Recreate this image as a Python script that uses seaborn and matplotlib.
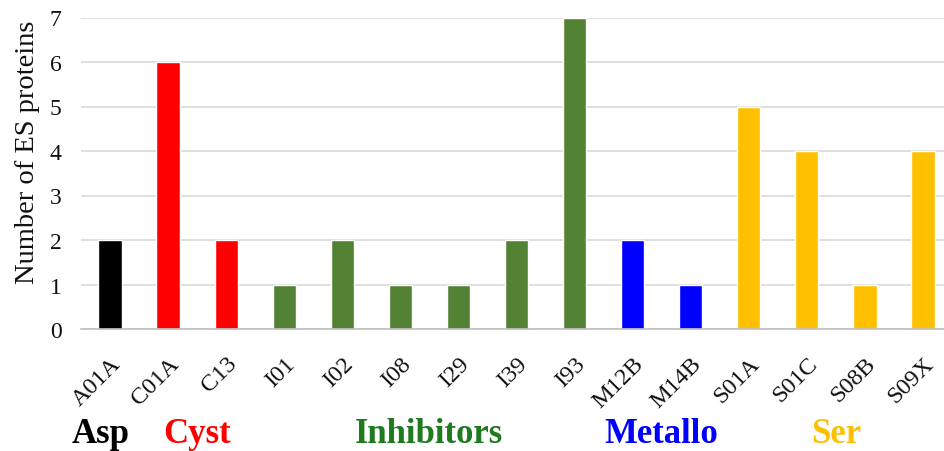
import matplotlib
matplotlib.use("Agg")
import matplotlib.pyplot as plt
import matplotlib.transforms as mtransforms
import seaborn as sns
import pandas as pd
import numpy as np

categories = ["A01A", "C01A", "C13", "I01", "I02", "I08", "I29", "I39", "I93",
              "M12B", "M14B", "S01A", "S01C", "S08B", "S09X"]
values = [2, 6, 2, 1, 2, 1, 1, 2, 7, 2, 1, 5, 4, 1, 4]
groups = ["Asp", "Cyst", "Cyst", "Inhibitors", "Inhibitors", "Inhibitors", "Inhibitors",
          "Inhibitors", "Inhibitors", "Metallo", "Metallo", "Ser", "Ser", "Ser", "Ser"]
group_names = ["Asp", "Cyst", "Inhibitors", "Metallo", "Ser"]
bar_colors = {"Asp": "#000000", "Cyst": "#FF0000", "Inhibitors": "#548235",
              "Metallo": "#0000FF", "Ser": "#FFC000"}
label_colors = {"Asp": "#000000", "Cyst": "#FF0000", "Inhibitors": "#1E7B1E",
                "Metallo": "#0000FF", "Ser": "#FFC000"}

df = pd.DataFrame({"cat": categories, "val": values, "grp": groups})

sns.set_theme(style="white")
plt.rcParams["font.family"] = ["Liberation Serif", "DejaVu Serif"]
plt.rcParams["text.color"] = "#111111"
plt.rcParams["xtick.color"] = "#111111"
plt.rcParams["ytick.color"] = "#111111"
plt.rcParams["axes.labelcolor"] = "#111111"

fig = plt.figure(figsize=(9.45, 4.52), dpi=100)
ax = fig.add_axes([81 / 945, 1 - 330 / 452, 871 / 945, (330 - 18.5) / 452])

sns.barplot(data=df, x="cat", y="val", hue="grp", palette=bar_colors,
            order=categories, hue_order=group_names, dodge=False, width=0.4,
            legend=False, ax=ax, saturation=1)

ax.set_xlim(-0.5, len(categories) - 0.5)
ax.set_ylim(0, 7)
ax.set_yticks(range(0, 8))
ax.yaxis.grid(True, color="#D9D9D9", linewidth=1.2)
ax.set_axisbelow(True)
for s in ["top", "right", "left"]:
    ax.spines[s].set_visible(False)
ax.spines["bottom"].set_color("#BFBFBF")
ax.spines["bottom"].set_linewidth(1.2)
ax.tick_params(axis="both", length=0)
ax.tick_params(axis="y", pad=14, labelsize=17)
ax.tick_params(axis="x", pad=17, labelsize=17.5)
plt.setp(ax.get_xticklabels(), rotation=45, ha="right", rotation_mode="anchor")
ax.set_xlabel("")
ax.set_ylabel("Number of ES proteins", fontsize=20.5)
ax.yaxis.set_label_coords(-0.047, 0.571)

trans = mtransforms.blended_transform_factory(ax.transData, fig.transFigure)
for g in group_names:
    idx = [i for i, gg in enumerate(groups) if gg == g]
    xc = np.mean(idx)
    if g == "Asp":
        xc -= 0.17
    ax.text(xc, 1 - 435 / 452, g, transform=trans,
            ha="center", va="center", fontsize=25, fontweight="bold",
            color=label_colors[g])

fig.savefig("out.png", dpi=100)
